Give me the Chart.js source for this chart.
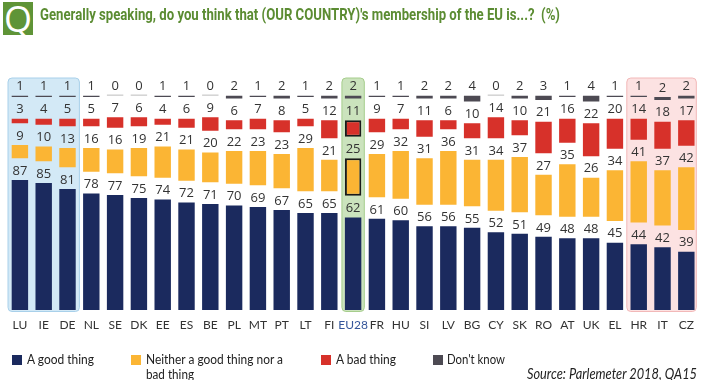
<!DOCTYPE html>
<html>
<head>
<meta charset="utf-8">
<script src="https://cdn.jsdelivr.net/npm/chart.js@4.4.1/dist/chart.umd.min.js"></script>
<style>
  html, body { margin: 0; padding: 0; background: #fff; width: 702px; height: 380px; overflow: hidden; }
  #wrap { position: relative; width: 702px; height: 380px; }
  #qbox { position: absolute; left: 3px; top: 2px; width: 30px; height: 33px; background: #5f9437;
          color: #fff; font-family: "Open Sans", sans-serif; font-size: 36px; line-height: 33px; text-align: center; overflow: hidden; }
  .fit { position: absolute; white-space: nowrap; transform-origin: 0 0; }
  #title { left: 40px; top: 4px; color: #5b8c32; font-family: "Roboto", sans-serif; font-weight: bold; font-size: 17px; line-height: 20px; }
  #chartBox { position: absolute; left: 0; top: 0; width: 702px; height: 335px; }
  .leg { position: absolute; font-family: "Lato", sans-serif; font-size: 13.5px; color: #222; line-height: 15px; white-space: nowrap; transform-origin: 0 0; }
  .sw { position: absolute; width: 10px; height: 10px; }
  #source { top: 365px; font-family: "Lato", sans-serif; font-style: italic; font-size: 15px; line-height: 16px; color: #222; }
</style>
</head>
<body>
<div id="wrap">
  <div id="chartBox"><canvas id="c" width="702" height="335"></canvas></div>
  <div id="qbox">Q</div>
  <div id="title" class="fit" data-w="520">Generally speaking, do you think that (OUR COUNTRY)'s membership of the EU is...?&nbsp; (%)</div>
  <div class="sw" style="left:12px;top:355px;background:#1b2a5e"></div>
  <div class="leg" style="left:27px;top:352px" data-w="67">A good thing</div>
  <div class="sw" style="left:131px;top:355px;background:#fbb534"></div>
  <div class="leg" style="left:146px;top:352px" data-w="137">Neither a good thing nor a</div>
  <div class="leg" style="left:146px;top:367px" data-w="48">bad thing</div>
  <div class="sw" style="left:321px;top:355px;background:#d7312a"></div>
  <div class="leg" style="left:336px;top:352px" data-w="60">A bad thing</div>
  <div class="sw" style="left:433px;top:355px;background:#4d4a53"></div>
  <div class="leg" style="left:447px;top:352px" data-w="58">Don't know</div>
  <div id="source" class="fit" data-w="170" data-right="697">Source: Parlemeter 2018, QA15</div>
</div>
<script>
const categories = ["LU","IE","DE","NL","SE","DK","EE","ES","BE","PL","MT","PT","LT","FI","EU28","FR","HU","SI","LV","BG","CY","SK","RO","AT","UK","EL","HR","IT","CZ"];
const goodThing = [87,85,81,78,77,75,74,72,71,70,69,67,65,65,62,61,60,56,56,55,52,51,49,48,48,45,44,42,39];
const neitherThing = [9,10,13,16,16,19,21,21,20,22,23,23,29,21,25,29,32,31,36,31,34,37,27,35,26,34,41,37,42];
const badThing = [3,4,5,5,7,6,4,6,9,6,7,8,5,12,11,9,7,11,6,10,14,10,21,16,22,20,14,18,17];
const dontKnow = [1,1,1,1,0,0,1,1,0,2,1,2,1,2,2,1,1,2,2,4,0,2,3,1,4,1,1,2,2];

// Fit condensed-looking text to the widths seen in the reference
document.querySelectorAll("[data-w]").forEach(el => {
  const target = parseFloat(el.dataset.w);
  const w = el.getBoundingClientRect().width;
  const s = target / w;
  el.style.transform = "scaleX(" + s + ")";
  if (el.dataset.right) {
    el.style.left = (parseFloat(el.dataset.right) - target) + "px";
  }
});

const GAP = 14.5;           // visual spacer between segments (in value units)
const EU_INDEX = categories.indexOf("EU28");

const rGood = [], rNeither = [], rBad = [], rDk = [];
categories.forEach((c, i) => {
  const a0 = 0, a1 = goodThing[i];
  const b0 = a1 + GAP, b1 = b0 + neitherThing[i];
  const c0 = b1 + GAP, c1 = c0 + badThing[i];
  const d0 = c1 + GAP, d1 = d0 + dontKnow[i];
  rGood.push([a0, a1]); rNeither.push([b0, b1]); rBad.push([c0, c1]); rDk.push([d0, d1]);
});
const valueSets = [goodThing, neitherThing, badThing, dontKnow];

const highlights = [
  { from: 0, to: 2, fill: "#d3e9f6", stroke: "#a8d0ea", l: 0.5, r: 0.5 },
  { from: EU_INDEX, to: EU_INDEX, fill: "#cbe3bd", stroke: "#a6cd8c", l: 0.47, r: 0.47 },
  { from: 26, to: 28, fill: "#fce2e2", stroke: "#f2b8b8", l: 0.5, r: 0.42 }
];

function roundRect(ctx, x, y, w, h, r) {
  ctx.beginPath();
  ctx.moveTo(x + r, y);
  ctx.lineTo(x + w - r, y); ctx.quadraticCurveTo(x + w, y, x + w, y + r);
  ctx.lineTo(x + w, y + h - r); ctx.quadraticCurveTo(x + w, y + h, x + w - r, y + h);
  ctx.lineTo(x + r, y + h); ctx.quadraticCurveTo(x, y + h, x, y + h - r);
  ctx.lineTo(x, y + r); ctx.quadraticCurveTo(x, y, x + r, y);
  ctx.closePath();
}

const bgPlugin = {
  id: "bgBoxes",
  beforeDatasetsDraw(chart) {
    const { ctx, scales: { x }, chartArea } = chart;
    const cw = x.width / categories.length;
    ctx.save();
    highlights.forEach(h => {
      const x0 = x.getPixelForValue(h.from) - cw * h.l;
      const x1 = x.getPixelForValue(h.to) + cw * h.r;
      const y0 = chartArea.top, y1 = chartArea.bottom + 1.5;
      roundRect(ctx, x0, y0, x1 - x0, y1 - y0, 4);
      ctx.fillStyle = h.fill; ctx.fill();
      ctx.lineWidth = 1; ctx.strokeStyle = h.stroke; ctx.stroke();
    });
    ctx.restore();
  }
};

const labelPlugin = {
  id: "valLabels",
  afterDatasetsDraw(chart) {
    const { ctx, scales: { y } } = chart;
    ctx.save();
    ctx.font = "13px 'Open Sans', sans-serif";
    ctx.fillStyle = "#333";
    ctx.textAlign = "center";
    ctx.textBaseline = "middle";
    chart.data.datasets.forEach((ds, di) => {
      const meta = chart.getDatasetMeta(di);
      meta.data.forEach((el, i) => {
        const top = ds.data[i][1];
        const py = y.getPixelForValue(top);
        const v = valueSets[di][i];
        if (di === 3 && v === 0) {
          ctx.fillStyle = "#bdbdbd";
          ctx.fillRect(el.x - el.width / 2, py - 1, el.width, 1);
          ctx.fillStyle = "#333";
        }
        ctx.fillText(String(v), el.x, py - 9);
      });
    });
    ctx.restore();
  }
};

const common = { grouped: false, barPercentage: 0.69, categoryPercentage: 1.0, borderSkipped: false };
const euBorder = (ctx) => ctx.dataIndex === EU_INDEX ? 2 : 0;

new Chart(document.getElementById("c"), {
  type: "bar",
  data: {
    labels: categories,
    datasets: [
      { label: "A good thing", data: rGood, backgroundColor: "#1b2a5e", ...common },
      { label: "Neither a good thing nor a bad thing", data: rNeither, backgroundColor: "#fbb534", borderColor: "#1a1a1a", borderWidth: euBorder, ...common },
      { label: "A bad thing", data: rBad, backgroundColor: "#d7312a", borderColor: "#1a1a1a", borderWidth: euBorder, ...common },
      { label: "Don't know", data: rDk, backgroundColor: "#4d4a53", ...common }
    ]
  },
  options: {
    responsive: false,
    animation: false,
    events: [],
    layout: { padding: { left: 8, right: 3, top: 78, bottom: 0 } },
    plugins: { legend: { display: false }, tooltip: { enabled: false }, title: { display: false } },
    scales: {
      x: {
        grid: { display: false, drawTicks: false },
        border: { display: false },
        ticks: {
          padding: 8,
          autoSkip: false,
          maxRotation: 0,
          font: { family: "'Lato', sans-serif", size: 12 },
          color: (ctx) => ctx.index === EU_INDEX ? "#34559a" : "#333"
        },
        afterFit: (s) => { s.height = 25; }
      },
      y: { display: false, min: 0, max: 155.3 }
    }
  },
  plugins: [bgPlugin, labelPlugin]
});
</script>
</body>
</html>
